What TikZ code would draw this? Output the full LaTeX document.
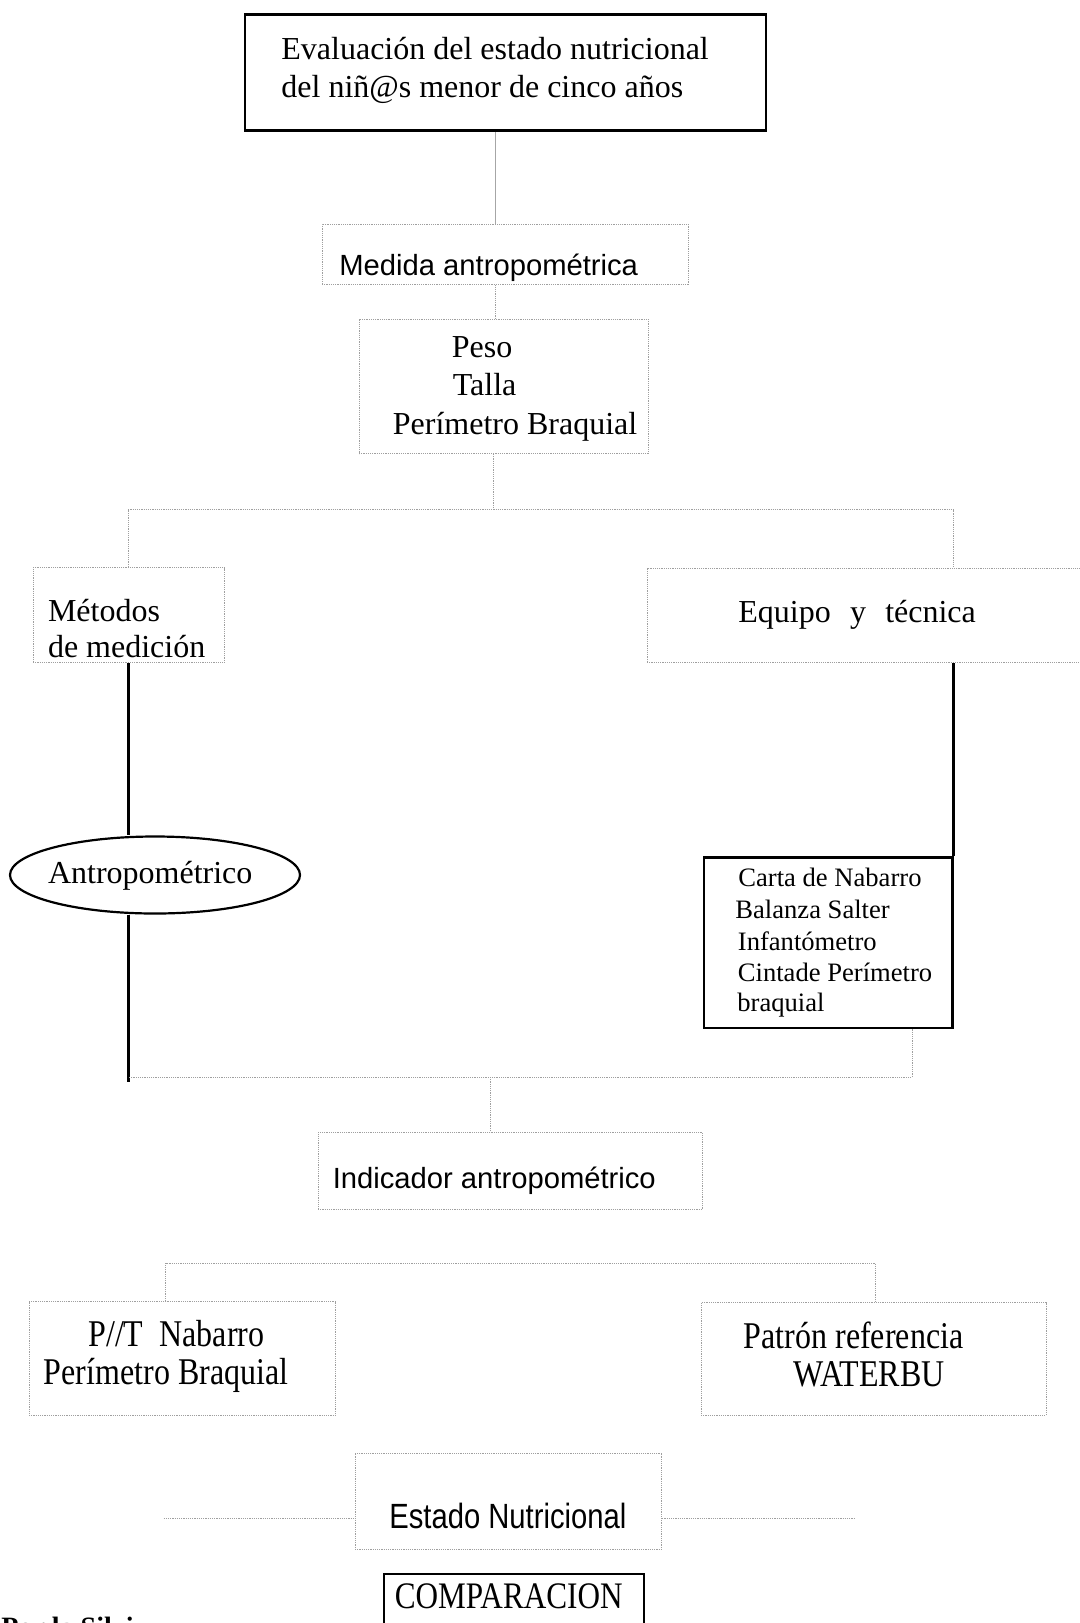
\documentclass[tikz,border=0pt]{standalone}
\usepackage{fontspec}
\setmainfont{Liberation Serif}
\newfontfamily\arialf{Liberation Sans}
\usepackage{graphicx}
\usetikzlibrary{fit,shapes.geometric}
\begin{document}
\begin{tikzpicture}[x=0.5pt,y=-0.5pt,
  dotbox/.style={draw=gray!75, line width=0.5pt, dash pattern=on 0.6pt off 0.5pt, inner sep=0},
  solidbox/.style={draw=black, line width=1.4pt, inner sep=0},
  dotline/.style={draw=gray!75, line width=0.5pt, dash pattern=on 0.6pt off 0.5pt},
  thinline/.style={draw=gray!70, line width=0.5pt},
  thickline/.style={draw=black, line width=1.5pt},
  tx/.style={inner sep=0, anchor=base west, font=\fontsize{16}{19}\selectfont},
  sx/.style={inner sep=0, anchor=base west, font=\arialf\fontsize{14.6}{17}\selectfont},
  cx/.style={inner sep=0, anchor=base west, font=\fontsize{13.3}{16}\selectfont}]
\useasboundingbox (0,0) rectangle (1080,1623);

% boxes
\node[solidbox, fit={(245,14.5) (766,130.5)}] (top) {};
\node[dotbox, fit={(322,224) (688,284)}] (med) {};
\node[dotbox, fit={(359,319) (648,453.5)}] (peso) {};
\node[dotbox, fit={(33,567.5) (224.7,662.7)}] (met) {};
\node[dotbox, fit={(647,568.5) (1095,662.7)}] (equ) {};
\node[draw=black, line width=1.1pt, ellipse, inner sep=0, minimum width=145pt, minimum height=38.5pt] (ell) at (155,875) {};
\node[solidbox, fit={(704,857.4) (952.7,1028)}] (carta) {};
\node[dotbox, fit={(318,1132) (702,1209.5)}] (ind) {};
\node[dotbox, fit={(29,1301.6) (335.5,1415.5)}] (pt) {};
\node[dotbox, fit={(701,1302.6) (1046,1415.5)}] (pat) {};
\node[dotbox, fit={(355,1453) (661.7,1549)}] (est) {};
\node[draw=black, line width=1pt, inner sep=0, fit={(384,1574) (644,1660)}] (comp) {};

% texts
\node[tx] (t1) at (281,59) {Evaluación del estado nutricional};
\node[tx] (t2) at (281,97.5) {del niñ@s menor de cinco años};
\node[sx] (tmed) at (339,275.5) {Medida antropométrica};
\node[tx] (tpeso) at (451.5,357.5) {Peso};
\node[tx] (ttalla) at (452.5,395.5) {Talla};
\node[tx] (tperim) at (392.5,434) {Perímetro Braquial};
\node[tx] (tmet1) at (47.6,621.5) {Métodos};
\node[tx] (tmet2) at (47.6,657.5) {de medición};
\node[tx] (tequ) at (738,622.5) {Equipo\hspace{0.6em}y\hspace{0.6em}técnica};
\node[tx] (tell) at (47.6,883) {Antropométrico};
\node[cx] (c1) at (738,886) {Carta de Nabarro};
\node[cx] (c2) at (735,918) {Balanza Salter};
\node[cx] (c3) at (737.5,950) {Infantómetro};
\node[cx] (c4) at (737.5,981) {Cintade Perímetro};
\node[cx] (c5) at (737,1011) {braquial};
\node[sx] (tind) at (332.4,1188.5) {Indicador antropométrico};
\node[tx] (tpt1) at (88,1346) {\scalebox{1}[1.18]{P//T\hspace{0.5em}Nabarro}};
\node[tx] (tpt2) at (43.5,1384.5) {\scalebox{1}[1.18]{Perímetro Braquial}};
\node[tx] (tpat1) at (743.5,1348.5) {\scalebox{1}[1.18]{Patrón referencia}};
\node[tx] (tpat2) at (793,1386.5) {\scalebox{1}[1.18]{WATERBU}};
\node[sx] (test) at (389,1528.5) {\scalebox{1}[1.2]{Estado Nutricional}};
\node[tx, font=\fontsize{15.6}{19}\selectfont] (tcomp) at (394.5,1608.5) {\scalebox{1}[1.2]{COMPARACION}};
\node[tx, font=\bfseries\fontsize{14}{17}\selectfont] (tpor) at (1,1636.5) {Por la Silvi};

% connectors
\draw[thinline] (495,0 |- top.south) -- (495,0 |- med.north);
\draw[dotline] (495,0 |- med.south) -- (495,0 |- peso.north);
\coordinate (br) at (493,509.5);
\draw[dotline] (493,0 |- peso.south) -- (br);
\draw[dotline] (128.4,0 |- met.north) |- (953.7,509.5) -- (953.7,0 |- equ.north);
\draw[thickline] (128.4,0 |- met.south) -- (128.4,0 |- ell.north);
\coordinate (lb) at (128.4,1082);
\draw[thickline] (128.4,0 |- ell.south) -- (lb);
\draw[thickline] (953.7,0 |- equ.south) -- (953.7,0 |- carta.north);
\coordinate (jn) at (490,1077);
\draw[dotline] (912,0 |- carta.south) -- (912,1077) -- (128.4,1077);
\draw[dotline] (jn) -- (490,0 |- ind.north);
\draw[dotline] (165.7,0 |- pt.north) |- (875,1263) -- (875,0 |- pat.north);
\coordinate (el) at (163.6,1518);
\coordinate (er) at (855.3,1518);
\draw[dotline] (el) -- (est.west |- el);
\draw[dotline] (est.east |- er) -- (er);
\end{tikzpicture}
\end{document}
